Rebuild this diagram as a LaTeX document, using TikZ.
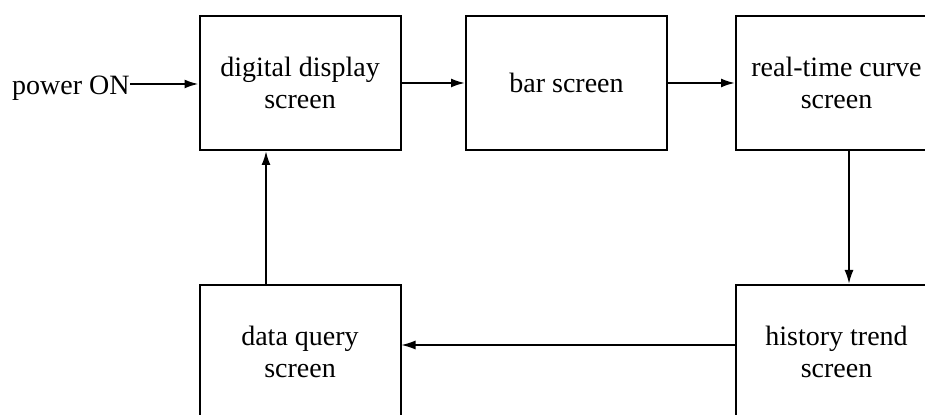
\documentclass[tikz,border=0pt]{standalone}
\usepackage{fontspec}
\setmainfont{Liberation Serif}
\usetikzlibrary{arrows.meta}

\tikzset{
  screenbox/.style={draw, line width=1pt, minimum width=100.5pt, minimum height=67pt,
    align=center, inner sep=0pt, font=\fontsize{14}{16}\selectfont},
  flow/.style={-{Latex[length=7pt,width=4.5pt]}, line width=1pt},
  thinflow/.style={-{Latex[length=7pt,width=4.5pt]}, line width=0.6pt}
}

\begin{document}
\begin{tikzpicture}[x=0.5pt,y=-0.5pt]

% Obszar rysunku
\clip (0,0) rectangle (925,415);

% ---------- Gorny rzad ----------
\node[screenbox] (digital) at (300,83) {digital display\\screen};
\node[screenbox] (bar) at (566.5,83) {bar screen};
\node[screenbox] (realtime) at (836.5,83) {real-time curve\\screen};

% ---------- Dolny rzad ----------
\node[screenbox] (history) at (836.5,352) {history trend\\screen};
\node[screenbox] (query) at (300,352) {data query\\screen};

% ---------- Wejscie ----------
\node[anchor=east, inner sep=0pt, font=\fontsize{14}{16}\selectfont] (power) at (130,88) {power ON};
\coordinate (powerend) at (130,84);

% ---------- Polaczenia ----------
\draw[flow] (powerend) -- (powerend -| digital.west);
\draw[flow] (digital.east) -- (bar.west);
\draw[flow] (bar.east) -- (realtime.west);
\draw[flow] ([xshift=6.25pt]realtime.south) -- ([xshift=6.25pt]history.north);
\draw[thinflow] ([yshift=3.5pt]history.west) -- ([yshift=3.5pt]query.east);
\draw[flow] ([xshift=-17pt]query.north) -- ([xshift=-17pt]digital.south);

\end{tikzpicture}
\end{document}
